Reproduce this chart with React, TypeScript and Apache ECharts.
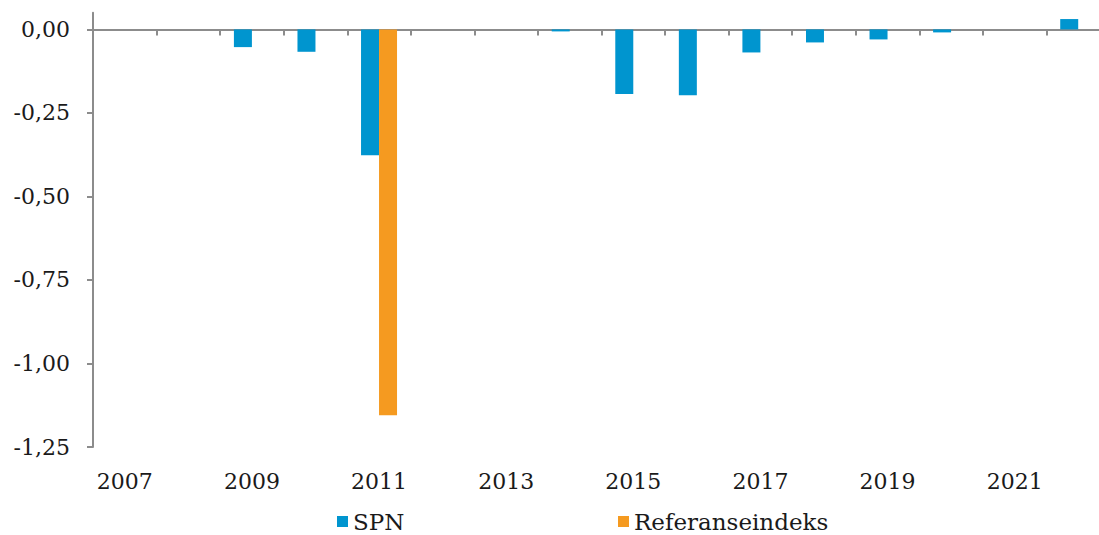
import React, { useEffect, useRef } from "react";
import * as echarts from "echarts";

const years = ["2007","2008","2009","2010","2011","2012","2013","2014","2015","2016","2017","2018","2019","2020","2021","2022"];
const spn = [0, 0, -0.053, -0.067, -0.377, 0, 0, -0.006, -0.193, -0.197, -0.069, -0.039, -0.03, -0.009, 0, 0.031];
const referanse = [0, 0, 0, 0, -1.155, 0, 0, 0, 0, 0, 0, 0, 0, 0, 0, 0];
const yTicks = [-1.25, -1, -0.75, -0.5, -0.25, 0];

const FONT = "DejaVu Serif";
const AXIS = "#8c8c8c";
const TEXT = "#1a1a1a";

export default function App() {
  const ref = useRef<HTMLDivElement>(null);
  useEffect(() => {
    if (!ref.current) return;
    const chart = echarts.init(ref.current, null, { renderer: "svg" });
    const legendCommon = {
      top: 510,
      padding: 0,
      icon: "rect",
      itemWidth: 11,
      itemHeight: 11,
      textStyle: { fontFamily: FONT, fontSize: 23, color: TEXT },
    };
    chart.setOption({
      animation: false,
      backgroundColor: "#ffffff",
      textStyle: { fontFamily: FONT },
      grid: { left: 93, right: 10, top: 12.7, bottom: 88, containLabel: false },
      legend: [
        { ...legendCommon, data: ["SPN"], left: 337 },
        { ...legendCommon, data: ["Referanseindeks"], left: 618 },
      ],
      xAxis: [
        {
          type: "category",
          data: years,
          axisLine: { onZero: true, lineStyle: { color: AXIS, width: 2 } },
          axisTick: { show: true, interval: 0, length: 6, lineStyle: { color: AXIS, width: 2 } },
          axisLabel: { show: false },
          splitLine: { show: false },
        },
        {
          type: "category",
          data: years,
          position: "bottom",
          axisLine: { show: false, onZero: false },
          axisTick: { show: false },
          axisLabel: { interval: 1, margin: 23, fontFamily: FONT, fontSize: 22, color: TEXT },
          splitLine: { show: false },
        },
      ],
      yAxis: {
        type: "value",
        min: -1.25,
        max: 0.05,
        interval: 0.25,
        axisLine: { show: true, lineStyle: { color: AXIS, width: 2 } },
        axisTick: { show: true, length: 6, customValues: yTicks, lineStyle: { color: AXIS, width: 2 } },
        splitLine: { show: false },
        axisLabel: {
          customValues: yTicks,
          margin: 23,
          fontFamily: FONT,
          fontSize: 22,
          color: TEXT,
          formatter: (v: number) => (Math.abs(v) < 1e-9 ? 0 : v).toFixed(2).replace(".", ","),
        },
      },
      series: [
        {
          name: "SPN",
          type: "bar",
          data: spn,
          barWidth: 18,
          barGap: "0%",
          itemStyle: { color: "#0095cf" },
        },
        {
          name: "Referanseindeks",
          type: "bar",
          data: referanse,
          barWidth: 18,
          barGap: "0%",
          itemStyle: { color: "#f59a20" },
        },
      ],
    });
    return () => chart.dispose();
  }, []);
  return (
    <div style={{ position: "absolute", left: 0, top: 0, width: 1099, height: 535, overflow: "hidden" }}>
      <div ref={ref} style={{ width: 1120, height: 535 }} />
    </div>
  );
}
